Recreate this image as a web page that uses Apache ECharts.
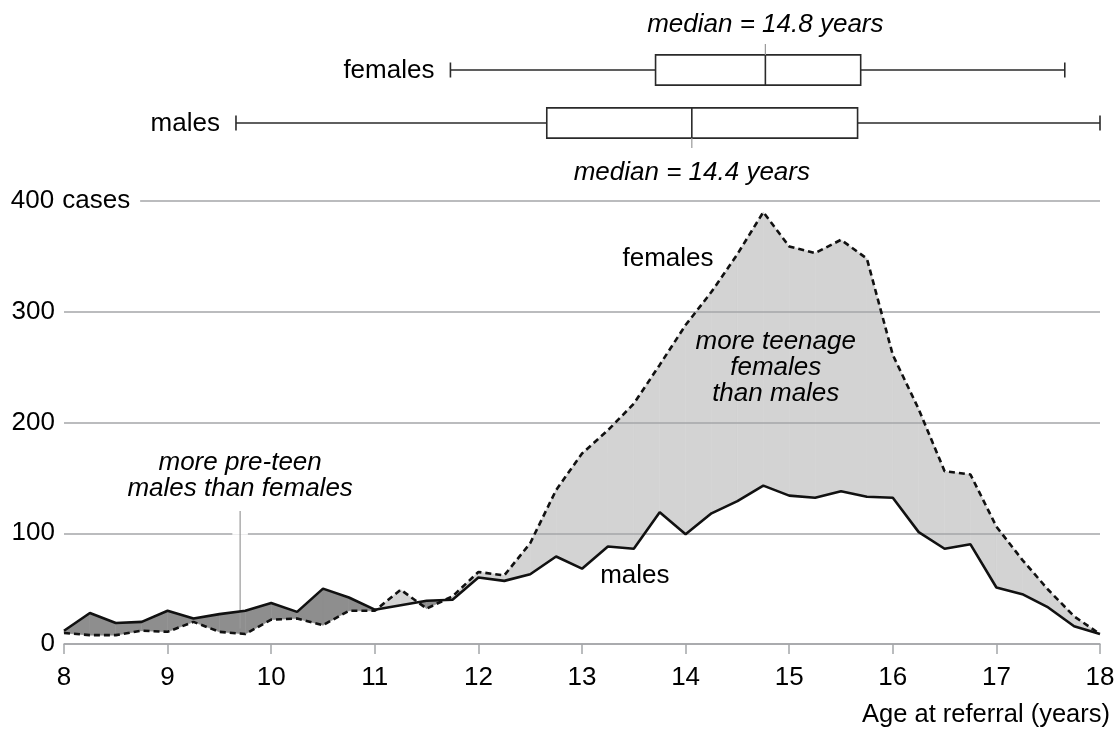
<!DOCTYPE html>
<html>
<head>
<meta charset="utf-8">
<script src="https://cdn.jsdelivr.net/npm/echarts@6/dist/echarts.min.js"></script>
<style>
  html, body { margin: 0; padding: 0; background: #fff; }
  #chart { width: 1120px; height: 729px; }
</style>
</head>
<body>
<div id="chart"></div>
<script>
// age at referral, quarter years
var ages = [8, 8.25, 8.5, 8.75, 9, 9.25, 9.5, 9.75, 10, 10.25, 10.5, 10.75, 11, 11.25, 11.5, 11.75,
  12, 12.25, 12.5, 12.75, 13, 13.25, 13.5, 13.75, 14, 14.25, 14.5, 14.75, 15, 15.25, 15.5, 15.75,
  16, 16.25, 16.5, 16.75, 17, 17.25, 17.5, 17.75, 18];
var males = [12, 28, 19, 20, 30, 23, 27, 30, 37, 29, 50, 42, 31, 35, 39, 40, 60, 57, 63, 79, 68,
  88, 86, 119, 99, 118, 129, 143, 134, 132, 138, 133, 132, 101, 86, 90, 51, 45, 33, 16, 9];
var females = [10, 8, 8, 12, 11, 20, 11, 9, 22, 23, 17, 30, 30, 49, 32, 43, 65, 62, 91, 139, 172,
  193, 217, 252, 288, 318, 352, 390, 359, 353, 365, 348, 261, 212, 156, 153, 106, 76, 49, 25, 9];
var yTicks = [0, 100, 200, 300, 400];

// box plot summaries (years)
var boxGroups = ['males', 'females'];
var boxMin = [9.66, 11.73];
var boxQ1 = [12.66, 13.71];
var boxMedian = [14.06, 14.77];
var boxQ3 = [15.66, 15.69];
var boxMax = [18, 17.66];
var medianLabels = ['median = 14.4 years', 'median = 14.8 years'];

var FONT = '"Liberation Sans", Arial, Helvetica, sans-serif';
var FS = 26;
var LIGHT = '#d3d3d3';
var DARK = '#8e8e8e';

var maleLine = ages.map(function (a, i) { return [a, males[i]]; });
var femaleLine = ages.map(function (a, i) { return [a, females[i]]; });

// one item per segment between two neighbouring ages
var fillData = [];
for (var i = 0; i < ages.length - 1; i++) {
  fillData.push([ages[i], males[i], females[i], ages[i + 1], males[i + 1], females[i + 1]]);
}

var boxData = boxGroups.map(function (g, i) {
  return [boxMin[i], i, boxQ1[i], boxMedian[i], boxQ3[i], boxMax[i]];
});

function renderFill(params, api) {
  var x0 = api.value(0), m0 = api.value(1), f0 = api.value(2);
  var x1 = api.value(3), m1 = api.value(4), f1 = api.value(5);
  var d0 = f0 - m0, d1 = f1 - m1;
  var polys = [];
  if (d0 * d1 >= 0) {
    polys.push({ pts: [[x0, m0], [x1, m1], [x1, f1], [x0, f0]], up: d0 + d1 > 0 });
  } else {
    // lines cross inside the segment
    var t = d0 / (d0 - d1);
    var xc = x0 + t * (x1 - x0), yc = m0 + t * (m1 - m0);
    polys.push({ pts: [[x0, m0], [xc, yc], [x0, f0]], up: d0 > 0 });
    polys.push({ pts: [[xc, yc], [x1, m1], [x1, f1]], up: d1 > 0 });
  }
  return {
    type: 'group',
    children: polys.map(function (p) {
      var c = p.up ? LIGHT : DARK;
      return {
        type: 'polygon',
        shape: { points: p.pts.map(function (q) { return api.coord(q); }) },
        style: { fill: c, stroke: c, lineWidth: 0.6 }
      };
    })
  };
}

function renderBox(params, api) {
  var cat = api.value(1);
  var pMin = api.coord([api.value(0), cat]);
  var yc = pMin[1];
  var xMin = pMin[0];
  var xQ1 = api.coord([api.value(2), cat])[0];
  var xMed = api.coord([api.value(3), cat])[0];
  var xQ3 = api.coord([api.value(4), cat])[0];
  var xMax = api.coord([api.value(5), cat])[0];
  var band = api.size([0, 1])[1];
  var bh = band * 0.57;
  var cap = 7.5;
  var up = cat === 1;
  var stroke = { stroke: '#2a2a2a', lineWidth: 1.6 };
  var extEnd = up ? yc - bh / 2 - 11 : yc + bh / 2 + 10;
  return {
    type: 'group',
    children: [
      { type: 'line', shape: { x1: xMin, y1: yc, x2: xQ1, y2: yc }, style: stroke },
      { type: 'line', shape: { x1: xQ3, y1: yc, x2: xMax, y2: yc }, style: stroke },
      { type: 'line', shape: { x1: xMin, y1: yc - cap, x2: xMin, y2: yc + cap }, style: stroke },
      { type: 'line', shape: { x1: xMax, y1: yc - cap, x2: xMax, y2: yc + cap }, style: stroke },
      { type: 'rect', shape: { x: xQ1, y: yc - bh / 2, width: xQ3 - xQ1, height: bh },
        style: { fill: '#fff', stroke: '#2a2a2a', lineWidth: 1.6 } },
      { type: 'line', shape: { x1: xMed, y1: yc - bh / 2, x2: xMed, y2: yc + bh / 2 }, style: stroke },
      { type: 'line', shape: { x1: xMed, y1: up ? yc - bh / 2 : yc + bh / 2, x2: xMed, y2: extEnd },
        style: { stroke: '#999', lineWidth: 1.2 } },
      { type: 'text', x: xMin - 16, y: yc + 1,
        style: { text: boxGroups[cat], fill: '#000', font: FS + 'px ' + FONT, align: 'right', verticalAlign: 'middle' } },
      { type: 'text', x: xMed, y: up ? extEnd - 19 : extEnd + 25,
        style: { text: medianLabels[cat], fill: '#000', font: 'italic ' + FS + 'px ' + FONT, align: 'center', verticalAlign: 'middle' } }
    ]
  };
}

var notes = [
  [13.83, 348, 'females', 0],
  [13.51, 62, 'males', 0],
  [14.87, 249, 'more teenage\nfemales\nthan males', 1],
  [9.7, 152, 'more pre-teen\nmales than females', 1]
];

function renderNote(params, api) {
  var n = notes[params.dataIndex];
  var p = api.coord([n[0], n[1]]);
  return {
    type: 'text', x: p[0], y: p[1],
    style: {
      text: n[2], fill: '#000', font: (n[3] ? 'italic ' : '') + FS + 'px ' + FONT,
      align: 'center', verticalAlign: 'middle', lineHeight: 26
    }
  };
}

var chart = echarts.init(document.getElementById('chart'));
chart.setOption({
  animation: false,
  backgroundColor: '#fff',
  textStyle: { fontFamily: FONT },
  grid: [
    { left: 64, right: 20, top: 201, bottom: 85 },
    { left: 64, right: 20, top: 43.5, height: 106 }
  ],
  xAxis: [
    {
      type: 'value', gridIndex: 0, min: 8, max: 18, interval: 1,
      axisLine: { lineStyle: { color: '#a4a6a9', width: 1.5 } },
      axisTick: { length: 10, lineStyle: { color: '#a4a6a9', width: 1.5 } },
      axisLabel: { color: '#000', fontSize: FS, margin: 21, fontFamily: FONT },
      splitLine: { show: false },
      name: 'Age at referral (years)',
      nameLocation: 'end',
      nameGap: 10,
      nameTextStyle: { color: '#000', fontSize: 25.5, align: 'right', verticalAlign: 'top', padding: [58, 0, 0, 0], fontFamily: FONT }
    },
    { type: 'value', gridIndex: 1, min: 8, max: 18, show: false }
  ],
  yAxis: [
    {
      type: 'value', gridIndex: 0, min: 0, max: 400, interval: 100, z: 2,
      axisLine: { show: false },
      axisTick: { show: false },
      splitLine: { lineStyle: { color: '#a4a6a9', width: 1.5 } },
      axisLabel: {
        align: 'left', margin: 54, color: '#000', fontSize: FS, fontFamily: FONT,
        formatter: function (v) {
          return v === yTicks[yTicks.length - 1] ? '{n|' + v + '}{c| cases}' : '{n|' + v + '}';
        },
        rich: {
          n: { width: 45, align: 'right', fontSize: FS, color: '#000', fontFamily: FONT },
          c: { fontSize: FS, color: '#000', fontFamily: FONT, backgroundColor: '#fff', padding: [2, 10, 2, 0] }
        }
      }
    },
    { type: 'category', gridIndex: 1, data: boxGroups, show: false }
  ],
  series: [
    {
      type: 'custom', name: 'gap', xAxisIndex: 0, yAxisIndex: 0, z: 1,
      renderItem: renderFill,
      encode: { x: [0, 3], y: [1, 2, 4, 5] },
      data: fillData,
      silent: true
    },
    {
      type: 'line', name: 'pointer', z: 3, xAxisIndex: 0, yAxisIndex: 0,
      data: [[9.625, 100], [9.775, 100]], showSymbol: false,
      lineStyle: { color: '#fff', width: 3 }
    },
    {
      type: 'line', name: 'pointer2', z: 3, xAxisIndex: 0, yAxisIndex: 0,
      data: [[9.7, 120], [9.7, 14]], showSymbol: false,
      lineStyle: { color: '#999', width: 1.2 }
    },
    {
      type: 'line', name: 'females', z: 4, xAxisIndex: 0, yAxisIndex: 0,
      data: femaleLine, showSymbol: false,
      lineStyle: { color: '#111', width: 2.6, type: [6, 4] }
    },
    {
      type: 'line', name: 'males', z: 4, xAxisIndex: 0, yAxisIndex: 0,
      data: maleLine, showSymbol: false,
      lineStyle: { color: '#111', width: 2.6 }
    },
    {
      type: 'custom', name: 'notes', z: 5, xAxisIndex: 0, yAxisIndex: 0,
      renderItem: renderNote,
      encode: { x: 0, y: 1 },
      data: notes.map(function (n) { return [n[0], n[1]]; }),
      silent: true
    },
    {
      type: 'custom', name: 'boxes', xAxisIndex: 1, yAxisIndex: 1, z: 3,
      renderItem: renderBox,
      encode: { x: [0, 2, 3, 4, 5], y: 1 },
      data: boxData,
      silent: true
    }
  ]
});
</script>
</body>
</html>
